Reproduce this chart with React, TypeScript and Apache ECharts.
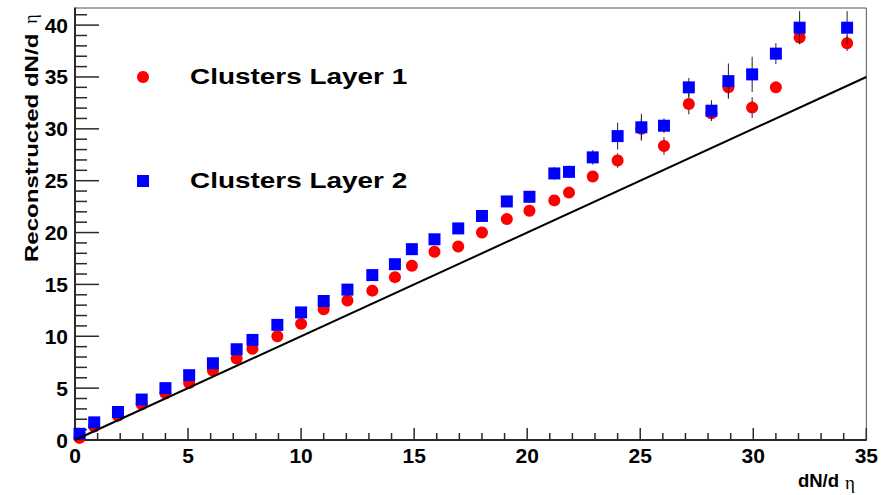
import React, { useEffect, useRef } from "react";
import * as echarts from "echarts";

// Measured dN/deta bins (x positions of points)
const dNdEta = [
  0.2, 0.85, 1.9, 2.95, 4.0, 5.05, 6.1, 7.15, 7.85, 8.95, 10.0, 11.0, 12.05, 13.15, 14.15, 14.9, 15.9,
  16.95, 18.0, 19.1, 20.1, 21.2, 21.85, 22.9, 24.0, 25.05, 26.05, 27.15, 28.15, 28.9, 29.95, 31.0, 32.05, 34.15,
];
// Clusters Layer 1 (red circles)
const layer1 = [
  0.2, 1.3, 2.35, 3.45, 4.5, 5.5, 6.7, 7.85, 8.8, 10.0, 11.2, 12.6, 13.45, 14.4, 15.7, 16.8, 18.15,
  18.65, 20.0, 21.3, 22.1, 23.1, 23.85, 25.4, 26.95, 30.0, 28.35, 32.4, 31.5, 34.0, 32.05, 34.0, 38.8, 38.25,
];
const layer1Err = [
  0.15, 0.2, 0.2, 0.2, 0.2, 0.2, 0.25, 0.25, 0.25, 0.3, 0.3, 0.3, 0.3, 0.35, 0.35, 0.35, 0.4,
  0.4, 0.4, 0.45, 0.45, 0.5, 0.5, 0.5, 0.7, 1.0, 0.85, 1.0, 0.6, 1.0, 1.0, 0.5, 0.6, 0.75,
];
// Clusters Layer 2 (blue squares)
const layer2 = [
  0.6, 1.7, 2.7, 3.9, 5.0, 6.25, 7.4, 8.75, 9.65, 11.1, 12.3, 13.4, 14.5, 15.9, 16.95, 18.4, 19.35,
  20.4, 21.6, 23.0, 23.45, 25.7, 25.85, 27.25, 29.3, 30.15, 30.3, 34.0, 31.75, 34.6, 35.25, 37.25, 39.75, 39.75,
];
const layer2Err = [
  0.15, 0.2, 0.2, 0.2, 0.25, 0.25, 0.25, 0.3, 0.3, 0.3, 0.35, 0.35, 0.35, 0.4, 0.4, 0.45, 0.45,
  0.5, 0.5, 0.55, 0.55, 0.6, 0.6, 0.7, 1.3, 1.3, 0.7, 0.9, 1.0, 1.7, 1.7, 1.0, 1.6, 1.6,
];
const referenceLine = [
  [0, 0],
  [35, 35],
];
const xRange = [0, 35];
const yRange = [0, 41.65];
const majorStep = 5;
const minorStep = 1;
const seriesNames = ["Clusters Layer 1", "Clusters Layer 2"];
const xTitle = "dN/d";
const yTitle = "Reconstructed dN/d";
const etaSymbol = "η";

export default function App() {
  const ref = useRef<HTMLDivElement>(null);
  useEffect(() => {
    const chart = echarts.init(ref.current as HTMLDivElement, null, { renderer: "svg" });
    const pts = (ys: number[]) => dNdEta.map((x, i) => [x, ys[i]]);
    const errs = (ys: number[], es: number[]) => dNdEta.map((x, i) => [x, ys[i], es[i]]);
    const errRender = (_p: any, api: any) => {
      const x = api.value(0);
      const y = api.value(1);
      const e = api.value(2);
      const a = api.coord([x, y - e]);
      const b = api.coord([x, y + e]);
      return {
        type: "line",
        shape: { x1: a[0], y1: a[1], x2: b[0], y2: b[1] },
        style: { stroke: "#222", lineWidth: 1 },
      };
    };
    // axis tick positions: [value, isMajor]
    const tickList = (lo: number, hi: number) => {
      const out: number[][] = [];
      for (let v = lo; v <= hi + 1e-9; v += minorStep) out.push([v, v % majorStep === 0 ? 1 : 0]);
      return out;
    };
    const xTickData = tickList(xRange[0], xRange[1]).map(([v, m]) => [v, yRange[0], m]);
    const yTickData = tickList(yRange[0], Math.floor(yRange[1])).map(([v, m]) => [xRange[0], v, m]);
    const tickColor = "#2a2a2a";
    const xTickRender = (_p: any, api: any) => {
      const p = api.coord([api.value(0), api.value(1)]);
      const len = api.value(2) ? 12 : 7;
      return {
        type: "line",
        shape: { x1: p[0], y1: p[1], x2: p[0], y2: p[1] - len },
        style: { stroke: tickColor, lineWidth: 1.5 },
      };
    };
    const yTickRender = (_p: any, api: any) => {
      const p = api.coord([api.value(0), api.value(1)]);
      const len = api.value(2) ? 24 : 12;
      return {
        type: "line",
        shape: { x1: p[0], y1: p[1], x2: p[0] + len, y2: p[1] },
        style: { stroke: tickColor, lineWidth: 1.5 },
      };
    };
    const labelFont = {
      fontFamily: "Liberation Sans",
      fontWeight: "bold" as const,
      fontSize: 21,
      color: "#000",
    };
    chart.setOption({
      animation: false,
      grid: { left: 75, right: 14, top: 8, bottom: 55, show: true, borderColor: "#555", borderWidth: 1 },
      xAxis: {
        type: "value",
        min: xRange[0],
        max: xRange[1],
        interval: majorStep,
        axisLine: { show: true, onZero: false, lineStyle: { color: "#000", width: 1.5 } },
        axisTick: { show: false },
        splitLine: { show: false },
        axisLabel: { show: true, ...labelFont, margin: 5 },
      },
      yAxis: {
        type: "value",
        min: yRange[0],
        max: yRange[1],
        interval: majorStep,
        axisLine: { show: true, onZero: false, lineStyle: { color: "#000", width: 1.5 } },
        axisTick: { show: false },
        splitLine: { show: false },
        axisLabel: { show: true, ...labelFont, margin: 7, showMaxLabel: false },
      },
      series: [
        {
          type: "custom",
          name: "x ticks",
          renderItem: xTickRender,
          data: xTickData,
          encode: { x: 0, y: 1 },
          z: 1,
        },
        {
          type: "custom",
          name: "y ticks",
          renderItem: yTickRender,
          data: yTickData,
          encode: { x: 0, y: 1 },
          z: 1,
        },
        {
          type: "custom",
          name: seriesNames[0] + " err",
          renderItem: errRender,
          data: errs(layer1, layer1Err),
          encode: { x: 0, y: 1 },
          z: 2,
        },
        {
          type: "scatter",
          name: seriesNames[0],
          data: pts(layer1),
          symbol: "circle",
          symbolSize: 12,
          itemStyle: { color: "#ff0000", opacity: 1 },
          z: 3,
        },
        {
          type: "custom",
          name: seriesNames[1] + " err",
          renderItem: errRender,
          data: errs(layer2, layer2Err),
          encode: { x: 0, y: 1 },
          z: 4,
        },
        {
          type: "scatter",
          name: seriesNames[1],
          data: pts(layer2),
          symbol: "rect",
          symbolSize: 12,
          itemStyle: { color: "#0000ff", opacity: 1 },
          z: 5,
        },
        {
          type: "line",
          data: referenceLine,
          showSymbol: false,
          symbol: "none",
          lineStyle: { color: "#000", width: 2 },
          z: 6,
        },
      ],
      graphic: [
        { type: "circle", shape: { cx: 143, cy: 77, r: 6 }, style: { fill: "#ff0000" } },
        { type: "rect", shape: { x: 137, y: 175, width: 12, height: 12 }, style: { fill: "#0000ff" } },
        {
          type: "text", x: 190, y: 76, scaleX: 1.27,
          style: { text: seriesNames[0], font: 'bold 22px "Liberation Sans"', fill: "#000", textAlign: "left", textVerticalAlign: "middle" },
        },
        {
          type: "text", x: 190, y: 180, scaleX: 1.27,
          style: { text: seriesNames[1], font: 'bold 22px "Liberation Sans"', fill: "#000", textAlign: "left", textVerticalAlign: "middle" },
        },
        {
          type: "text", x: 31.5, y: 262, rotation: Math.PI / 2, scaleX: 1.3,
          style: { text: yTitle, font: 'bold 18.5px "Liberation Sans"', fill: "#000", textAlign: "left", textVerticalAlign: "middle" },
        },
        {
          type: "text", x: 31, y: 19, rotation: Math.PI / 2,
          style: { text: etaSymbol, font: '18px "Liberation Serif"', fill: "#000", textAlign: "center", textVerticalAlign: "middle" },
        },
        {
          type: "text", x: 839, y: 480,
          style: { text: xTitle, font: 'bold 18.5px "Liberation Sans"', fill: "#000", textAlign: "right", textVerticalAlign: "middle" },
        },
        {
          type: "text", x: 845, y: 482,
          style: { text: etaSymbol, font: '19px "Liberation Serif"', fill: "#000", textAlign: "left", textVerticalAlign: "middle" },
        },
      ],
    });
    return () => chart.dispose();
  }, []);
  return (
    <div
      ref={ref}
      style={{ position: "fixed", left: 0, top: 0, width: 881, height: 495, background: "#fff" }}
    />
  );
}
